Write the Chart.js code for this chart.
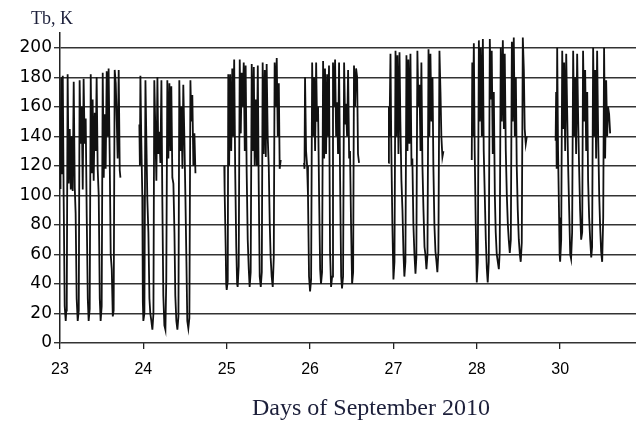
<!DOCTYPE html>
<html>
<head>
<meta charset="utf-8">
<title>Tb, September 2010</title>
<script src="https://cdn.jsdelivr.net/npm/chart.js@4.4.1/dist/chart.umd.min.js"></script>
<style>
  html, body { margin: 0; padding: 0; background: #fff; }
  #wrap { width: 636px; height: 421px; }
</style>
</head>
<body>
<div id="wrap"><canvas id="tb-chart" width="636" height="421"></canvas></div>
<script>
// --- DATA: day labels on the x axis (29 is not shown in the original) ---
const dayLabels = ['23', '24', '25', '26', '27', '28', '30'];
const yTicks = [0, 20, 40, 60, 80, 100, 120, 140, 160, 180, 200];

// Each burst: [hour of the day, Tb in K]
const sep23 = [[0.0,105],[0.1,150],[0.2,118],[0.35,180],[0.5,140],[0.65,115],[0.8,181],[1.05,100],[1.35,25],[1.65,15],[1.8,22],[1.95,28],[2.2,182],[2.5,108],[2.8,145],[3.1,104],[3.35,140],[3.65,103],[3.95,177],[4.25,105],[4.5,88],[4.8,30],[5.1,15],[5.4,22],[5.65,178],[5.95,135],[6.25,160],[6.55,104],[6.8,179],[7.1,135],[7.4,152],[7.7,85],[8.0,30],[8.25,15],[8.55,23],[8.85,182],[9.15,115],[9.4,165],[9.7,110],[10.0,156],[10.3,130],[10.55,180],[10.85,118],[11.15,100],[11.45,30],[11.7,15],[12.0,25],[12.3,183],[12.6,112],[12.85,155],[13.15,118],[13.45,184],[13.75,140],[14.0,186],[14.3,128],[14.6,60],[14.9,50],[15.2,18],[15.45,22],[15.75,185],[16.05,176],[16.35,150],[16.6,125],[16.9,185],[17.2,117],[17.4,112]];
const sep24 = [[-1.15,148],[-1.0,120],[-0.85,181],[-0.6,138],[-0.3,100],[-0.15,28],[0.0,15],[0.3,20],[0.6,178],[0.85,140],[1.15,97],[1.45,75],[1.75,30],[2.0,20],[2.3,15],[2.6,9],[2.9,20],[3.15,178],[3.45,145],[3.75,110],[4.05,180],[4.3,128],[4.6,143],[4.9,122],[5.2,178],[5.45,100],[5.75,32],[6.05,12],[6.35,9],[6.6,43],[6.9,178],[7.2,125],[7.5,176],[7.8,130],[8.05,174],[8.35,112],[8.65,108],[8.95,75],[9.2,32],[9.5,15],[9.8,9],[10.1,18],[10.35,178],[10.65,130],[10.95,160],[11.25,118],[11.5,175],[11.8,140],[12.1,100],[12.4,55],[12.65,15],[12.95,10],[13.25,17],[13.55,178],[13.8,150],[14.1,168],[14.4,120],[14.7,142],[15.0,115]];
const sep25 = [[-0.7,120],[-0.6,103],[-0.3,65],[-0.15,40],[0.0,36],[0.3,42],[0.45,182],[0.7,120],[1.0,182],[1.3,130],[1.6,186],[1.85,140],[2.15,192],[2.45,115],[2.75,65],[3.0,40],[3.15,38],[3.45,52],[3.75,192],[4.05,142],[4.3,183],[4.6,160],[4.9,190],[5.2,130],[5.45,188],[5.75,115],[6.05,70],[6.35,50],[6.6,38],[6.9,48],[7.2,189],[7.5,130],[7.8,187],[8.05,120],[8.35,165],[8.65,120],[8.95,188],[9.2,110],[9.5,45],[9.8,38],[10.1,48],[10.35,190],[10.65,128],[10.95,185],[11.25,126],[11.5,189],[11.8,140],[12.1,120],[12.4,80],[12.65,58],[12.95,45],[13.25,38],[13.55,58],[13.8,190],[14.1,160],[14.4,193],[14.7,140],[15.0,176],[15.25,118],[15.55,124]];
const sep26 = [[-1.75,122],[-1.6,118],[-1.45,180],[-1.15,130],[-0.85,120],[-0.6,100],[-0.3,45],[0.0,35],[0.3,43],[0.6,190],[0.85,140],[1.15,180],[1.45,130],[1.75,190],[2.0,150],[2.3,160],[2.6,100],[2.9,50],[3.15,40],[3.45,48],[3.75,191],[4.05,125],[4.3,186],[4.6,128],[4.9,182],[5.2,140],[5.45,188],[5.75,62],[6.05,38],[6.35,45],[6.6,190],[6.9,160],[7.2,192],[7.5,140],[7.8,163],[8.05,128],[8.35,190],[8.65,110],[8.95,45],[9.2,37],[9.5,45],[9.8,190],[10.1,148],[10.35,162],[10.65,140],[10.95,185],[11.25,125],[11.5,130],[11.8,80],[12.1,40],[12.4,48],[12.65,188],[12.95,160],[13.25,186],[13.55,180],[13.8,128],[14.1,122]];
const sep27 = [[-1.45,122],[-1.3,160],[-1.15,140],[-0.85,196],[-0.6,130],[-0.3,80],[0.0,43],[0.3,55],[0.6,198],[0.85,140],[1.15,195],[1.45,128],[1.75,197],[2.0,150],[2.3,110],[2.6,90],[2.9,60],[3.15,45],[3.45,55],[3.75,195],[4.05,130],[4.3,192],[4.6,135],[4.9,196],[5.2,120],[5.45,125],[5.75,80],[6.05,60],[6.35,47],[6.6,58],[6.9,198],[7.2,160],[7.5,175],[7.8,130],[8.05,190],[8.35,120],[8.65,90],[8.95,65],[9.2,60],[9.5,50],[9.8,60],[10.1,199],[10.35,140],[10.65,196],[10.95,150],[11.25,180],[11.5,120],[11.8,80],[12.1,62],[12.4,55],[12.65,48],[12.95,62],[13.25,198],[13.55,170],[13.8,140],[14.1,126],[14.4,130]];
const sep28 = [[-1.45,124],[-1.3,190],[-1.15,140],[-0.85,203],[-0.6,130],[-0.3,80],[0.0,41],[0.3,55],[0.6,205],[0.85,150],[1.15,200],[1.45,140],[1.75,206],[2.0,130],[2.3,100],[2.6,70],[2.9,50],[3.15,41],[3.45,55],[3.75,206],[4.05,165],[4.3,198],[4.6,128],[4.9,170],[5.2,100],[5.45,75],[5.75,60],[6.05,55],[6.35,50],[6.6,62],[6.9,200],[7.2,150],[7.5,205],[7.8,145],[8.05,196],[8.35,130],[8.65,100],[8.95,80],[9.2,70],[9.5,61],[9.8,70],[10.1,204],[10.35,150],[10.65,207],[10.95,140],[11.25,180],[11.5,120],[11.8,90],[12.1,70],[12.4,60],[12.65,55],[12.95,68],[13.25,207],[13.55,185],[13.8,145],[14.1,135],[14.4,140]];
const sep30 = [[-1.3,137],[-1.15,170],[-1.0,118],[-0.85,200],[-0.6,130],[-0.3,85],[-0.15,60],[0.0,55],[0.3,70],[0.6,198],[0.85,145],[1.15,190],[1.45,130],[1.75,196],[2.0,160],[2.3,120],[2.6,90],[2.9,60],[3.15,57],[3.45,75],[3.75,198],[4.05,140],[4.3,180],[4.6,128],[4.9,196],[5.2,150],[5.45,120],[5.75,90],[6.05,70],[6.35,75],[6.6,198],[6.9,150],[7.2,185],[7.5,130],[7.8,170],[8.05,110],[8.35,85],[8.65,70],[8.95,58],[9.2,65],[9.5,200],[9.8,140],[10.1,185],[10.35,125],[10.65,198],[10.95,140],[11.25,100],[11.5,80],[11.8,62],[12.1,55],[12.4,85],[12.65,200],[12.95,125],[13.25,178],[13.55,140],[13.8,160],[14.1,155],[14.4,142]];

const bursts = [sep23, sep24, sep25, sep26, sep27, sep28, sep30];

// one dataset per day so the gaps between days stay empty
const datasets = bursts.map((burst, i) => ({
    label: 'Sep ' + dayLabels[i],
    data: burst.map(([h, tb]) => ({ x: i + h / 24, y: tb })),
    borderColor: '#111',
    borderWidth: 1.8,
    pointRadius: 0,
    tension: 0,
    fill: false
}));

// axis caption and x title, drawn in fixed spots like the scanned figure
const captions = {
    id: 'captions',
    afterDraw(chart) {
        const { ctx, chartArea } = chart;
        ctx.save();
        ctx.fillStyle = '#1c1f3a';
        ctx.textBaseline = 'alphabetic';
        ctx.font = '18px "Liberation Serif", serif';
        ctx.textAlign = 'left';
        ctx.fillText('Tb, K', chartArea.left - 29, 24);
        ctx.font = '24px "Liberation Serif", serif';
        ctx.textAlign = 'center';
        ctx.fillText('Days of September 2010', 371, 415);
        ctx.restore();
    }
};

new Chart(document.getElementById('tb-chart'), {
    type: 'line',
    data: { datasets },
    plugins: [captions],
    options: {
        responsive: false,
        animation: false,
        devicePixelRatio: 1,
        layout: { padding: { top: 33, right: 0, bottom: 40, left: 0 } },
        plugins: { legend: { display: false }, tooltip: { enabled: false } },
        scales: {
            x: {
                type: 'linear',
                min: 0,
                max: 6.91,
                afterBuildTicks: (scale) => { scale.ticks = dayLabels.map((_, i) => ({ value: i })); },
                afterFit: (scale) => { scale.height = 38; },
                ticks: {
                    callback: (v) => dayLabels[v],
                    color: '#000',
                    font: { family: '"Liberation Sans", Arial, sans-serif', size: 16 },
                    padding: 11,
                    maxRotation: 0,
                    autoSkip: false
                },
                grid: { drawOnChartArea: false, drawTicks: true, tickLength: 6, color: '#222', lineWidth: 1.3 },
                border: { display: false }
            },
            y: {
                min: 0,
                max: 210,
                afterBuildTicks: (scale) => { scale.ticks = yTicks.map(v => ({ value: v })); },
                afterFit: (scale) => { scale.width = 60; },
                ticks: { color: '#000', font: { family: '"DejaVu Sans", sans-serif', size: 17 }, padding: 2 },
                grid: { color: '#333', lineWidth: 1.4, tickLength: 6 },
                border: { display: true, color: '#222', width: 1.5 }
            }
        }
    }
});
</script>
</body>
</html>
